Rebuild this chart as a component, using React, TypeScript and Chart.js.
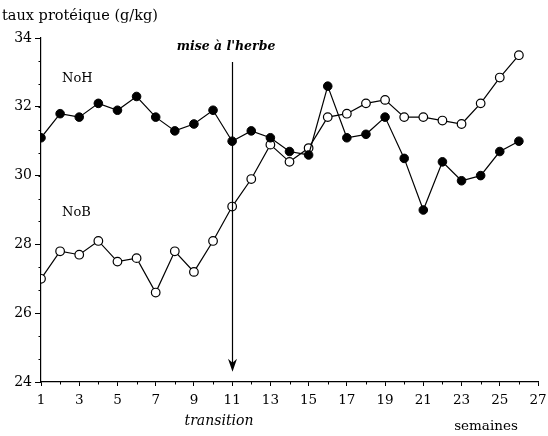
import React, { useEffect, useRef } from "react";
import { Chart, registerables } from "chart.js";

Chart.register(...registerables);

const weeks = [1, 2, 3, 4, 5, 6, 7, 8, 9, 10, 11, 12, 13, 14, 15, 16, 17, 18, 19, 20, 21, 22, 23, 24, 25, 26];
const noH = [31.1, 31.8, 31.7, 32.1, 31.9, 32.3, 31.7, 31.3, 31.5, 31.9, 31.0, 31.3, 31.1, 30.7, 30.6, 32.6, 31.1, 31.2, 31.7, 30.5, 29.0, 30.4, 29.85, 30.0, 30.7, 31.0];
const noB = [27.0, 27.8, 27.7, 28.1, 27.5, 27.6, 26.6, 27.8, 27.2, 28.1, 29.1, 29.9, 30.9, 30.4, 30.8, 31.7, 31.8, 32.1, 32.2, 31.7, 31.7, 31.6, 31.5, 32.1, 32.85, 33.5];
const yTicks = [24, 26, 28, 30, 32, 34];
const xTickLabels = [1, 3, 5, 7, 9, 11, 13, 15, 17, 19, 21, 23, 25, 27];
const transitionWeek = 11;

const SERIF = "'DejaVu Serif', 'Liberation Serif', serif";

const decorPlugin = {
  id: "decor",
  afterDraw(chart: any) {
    const ctx = chart.ctx;
    const xs = chart.scales.x;
    const ys = chart.scales.y;
    ctx.save();
    ctx.strokeStyle = "#000";
    ctx.fillStyle = "#000";
    ctx.lineWidth = 1;
    // x minor ticks (even weeks), pointing down
    const yb = ys.getPixelForValue(24);
    for (let v = 2; v <= 26; v += 2) {
      const px = Math.round(xs.getPixelForValue(v)) + 0.5;
      ctx.beginPath();
      ctx.moveTo(px, yb);
      ctx.lineTo(px, yb + 2.5);
      ctx.stroke();
    }
    // y minor ticks
    const xl = xs.getPixelForValue(1);
    for (let v = 24; v <= 34.001; v += 2 / 3) {
      const py = Math.round(ys.getPixelForValue(v)) + 0.5;
      ctx.beginPath();
      ctx.moveTo(xl - 2.5, py);
      ctx.lineTo(xl, py);
      ctx.stroke();
    }
    // arrow
    const ax = Math.round(xs.getPixelForValue(transitionWeek)) + 0.5;
    const yTop = ys.getPixelForValue(33.3);
    const yEnd = ys.getPixelForValue(24.3);
    ctx.lineWidth = 1.2;
    ctx.beginPath();
    ctx.moveTo(ax, yTop);
    ctx.lineTo(ax, yEnd - 8);
    ctx.stroke();
    ctx.beginPath();
    ctx.moveTo(ax - 4.5, yEnd - 13);
    ctx.lineTo(ax, yEnd);
    ctx.lineTo(ax + 4.5, yEnd - 13);
    ctx.lineTo(ax, yEnd - 9);
    ctx.closePath();
    ctx.fill();
    // texts
    ctx.textBaseline = "middle";
    ctx.textAlign = "left";
    ctx.font = `14.5px ${SERIF}`;
    ctx.fillText("taux protéique (g/kg)", 2, 16);
    ctx.font = `13px ${SERIF}`;
    ctx.fillText("NoH", 62, 79);
    ctx.fillText("NoB", 62, 213);
    ctx.font = `italic bold 12.5px ${SERIF}`;
    ctx.textAlign = "center";
    ctx.fillText("mise à l'herbe", 226, 47);
    ctx.font = `italic 14px ${SERIF}`;
    ctx.fillText("transition", 219, 421);
    ctx.font = `13.5px ${SERIF}`;
    ctx.fillText("semaines", 486, 426);
    ctx.restore();
  },
};

export default function App() {
  const ref = useRef<HTMLCanvasElement>(null);
  useEffect(() => {
    if (!ref.current) return;
    const chart = new Chart(ref.current, {
      type: "line",
      data: {
        datasets: [
          {
            label: "NoH",
            data: weeks.map((w, i) => ({ x: w, y: noH[i] })),
            borderColor: "#000",
            borderWidth: 1.2,
            backgroundColor: "#000",
            pointBackgroundColor: "#000",
            pointBorderColor: "#000",
            pointBorderWidth: 1,
            pointRadius: 4.3,
            tension: 0,
          },
          {
            label: "NoB",
            data: weeks.map((w, i) => ({ x: w, y: noB[i] })),
            borderColor: "#000",
            borderWidth: 1.2,
            backgroundColor: "#fff",
            pointBackgroundColor: "#fff",
            pointBorderColor: "#000",
            pointBorderWidth: 1.2,
            pointRadius: 4.3,
            tension: 0,
          },
        ],
      },
      options: {
        responsive: false,
        animation: false,
        layout: { padding: { top: 38, right: 10, left: 0, bottom: 0 } },
        plugins: { legend: { display: false }, tooltip: { enabled: false } },
        scales: {
          x: {
            type: "linear",
            min: 1,
            max: 27,
            afterFit(scale: any) {
              scale.height = 54;
              scale.paddingRight = 0;
              scale.paddingLeft = 0;
            },
            afterBuildTicks(scale: any) {
              scale.ticks = xTickLabels.map((v) => ({ value: v }));
            },
            ticks: {
              color: "#000",
              font: { family: SERIF, size: 13.5 },
              padding: 6,
              maxRotation: 0,
              autoSkip: false,
            },
            grid: { display: true, drawOnChartArea: false, drawTicks: true, tickLength: 4, color: "#000" },
            border: { display: true, color: "#000", width: 1.2 },
          },
          y: {
            type: "linear",
            min: 24,
            max: 34,
            afterFit(scale: any) {
              scale.width = 41;
            },
            afterBuildTicks(scale: any) {
              scale.ticks = yTicks.map((v) => ({ value: v }));
            },
            ticks: {
              color: "#000",
              font: { family: SERIF, size: 14 },
              padding: 3,
            },
            grid: { display: true, drawOnChartArea: false, drawTicks: true, tickLength: 6, color: "#000" },
            border: { display: true, color: "#000", width: 1.2 },
          },
        },
      },
      plugins: [decorPlugin],
    });
    return () => chart.destroy();
  }, []);
  return (
    <div style={{ position: "fixed", left: 0, top: 0, width: 548, height: 436, background: "#fff" }}>
      <canvas ref={ref} width={548} height={436} style={{ width: 548, height: 436 }} />
    </div>
  );
}
